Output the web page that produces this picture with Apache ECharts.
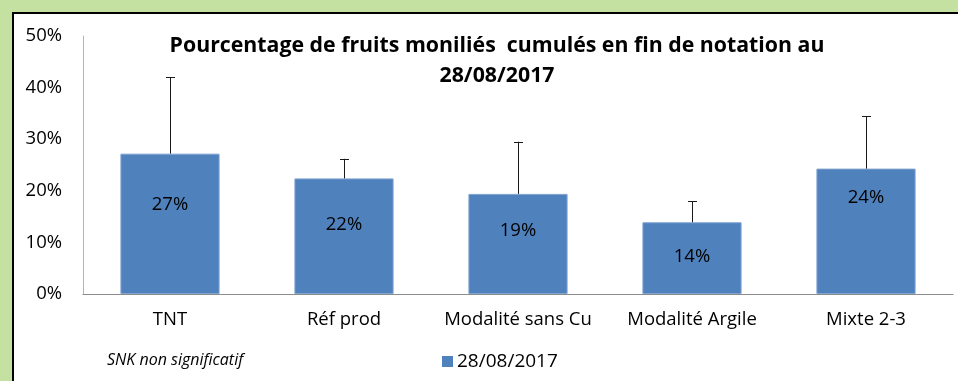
<!DOCTYPE html>
<html>
<head>
<meta charset="utf-8">
<script src="https://cdn.jsdelivr.net/npm/echarts@6/dist/echarts.min.js"></script>
<style>
  html, body { margin: 0; padding: 0; background: #ffffff; overflow: hidden; width: 958px; height: 381px; }
  .strip { position: absolute; background: #c4e1a2; }
  #stripTop { left: 0; top: 0; width: 1000px; height: 12px; }
  #stripLeft { left: 0; top: 0; width: 12px; height: 400px; }
  #edgeTop { position: absolute; left: 12px; top: 12px; width: 1000px; height: 2px; background: #000; }
  #edgeLeft { position: absolute; left: 12px; top: 12px; width: 2px; height: 400px; background: #000; }
  #chart { position: absolute; left: 0; top: 0; width: 958px; height: 381px; }
</style>
</head>
<body>
<div class="strip" id="stripTop"></div>
<div class="strip" id="stripLeft"></div>
<div id="edgeTop"></div>
<div id="edgeLeft"></div>
<div id="chart"></div>
<script>
// Modalities tested
const categories = ['TNT', 'Réf prod', 'Modalité sans Cu', 'Modalité Argile', 'Mixte 2-3'];
// Cumulated share of moniliated fruits (%), end of scoring 28/08/2017
const values = [27.2, 22.4, 19.4, 13.9, 24.3];
// Upper error-bar length (%)
const errorsUp = [14.8, 3.8, 10.1, 4.1, 10.2];
const yTicks = [0, 10, 20, 30, 40, 50];
const seriesName = '28/08/2017';

// vertical nudges of the value labels inside the bars (px)
const labelShift = [-19, -11, -13, -1, -34];

const FONT = '"Open Sans", sans-serif';
const BAR = '#4f81bd';
const TXT = 18.5;

const chart = echarts.init(document.getElementById('chart'), null, { renderer: 'canvas', width: 958, height: 381 });

const barData = values.map((v, i) => ({
  value: v,
  label: { offset: [0, labelShift[i]] }
}));

const errData = values.map((v, i) => [i, v, v + errorsUp[i]]);

chart.setOption({
  backgroundColor: 'transparent',
  animation: false,
  graphic: [
    {
      type: 'text',
      left: 107,
      top: 352,
      style: {
        text: 'SNK non significatif',
        font: 'italic 16px ' + FONT,
        fill: '#000000'
      }
    }
  ],
  title: {
    text: 'Pourcentage de fruits moniliés  cumulés en fin de notation au\n28/08/2017',
    left: 492,
    textAlign: 'center',
    top: 26,
    textStyle: {
      fontFamily: FONT,
      fontSize: 21.3,
      fontWeight: 'bold',
      color: '#000000',
      lineHeight: 30
    }
  },
  legend: {
    data: [seriesName],
    left: 437,
    top: 347,
    itemWidth: 11,
    itemHeight: 11,
    itemGap: 6,
    icon: 'rect',
    itemStyle: { borderWidth: 0 },
    textStyle: { fontFamily: FONT, fontSize: 19, color: '#000000', padding: [0, 0, 0, -1] }
  },
  grid: { left: 83, right: 5, top: 36, bottom: 87, containLabel: false },
  xAxis: {
    type: 'category',
    data: categories,
    axisLine: { lineStyle: { color: '#8c8c8c', width: 1 } },
    axisTick: { show: false },
    axisLabel: { interval: 0, fontFamily: FONT, fontSize: TXT, color: '#000000', margin: 16 }
  },
  yAxis: {
    type: 'value',
    min: yTicks[0],
    max: yTicks[yTicks.length - 1],
    interval: yTicks[1] - yTicks[0],
    axisLine: { show: true, lineStyle: { color: '#b4b4b4', width: 1 } },
    axisTick: { show: false },
    splitLine: { show: false },
    axisLabel: {
      fontFamily: FONT, fontSize: TXT, color: '#000000', margin: 21,
      formatter: v => v + '%'
    }
  },
  series: [
    {
      name: seriesName,
      type: 'bar',
      data: barData,
      barWidth: '57%',
      itemStyle: { color: BAR, borderColor: '#7fa3d1', borderWidth: 1 },
      label: {
        show: true,
        position: 'inside',
        fontFamily: FONT,
        fontSize: TXT,
        color: '#000000',
        formatter: p => Math.round(p.value) + '%'
      }
    },
    {
      name: 'erreur',
      type: 'custom',
      data: errData,
      z: 5,
      renderItem: (params, api) => {
        const base = api.coord([api.value(0), api.value(1)]);
        const top = api.coord([api.value(0), api.value(2)]);
        const x = Math.round(base[0]) + 0.5;
        const cap = 4.5;
        const style = { stroke: '#1a1a1a', lineWidth: 1 };
        return {
          type: 'group',
          children: [
            { type: 'line', shape: { x1: x, y1: base[1], x2: x, y2: top[1] }, style },
            { type: 'line', shape: { x1: x - cap, y1: Math.round(top[1]) + 0.5, x2: x + cap, y2: Math.round(top[1]) + 0.5 }, style }
          ]
        };
      }
    }
  ]
});
</script>
</body>
</html>
